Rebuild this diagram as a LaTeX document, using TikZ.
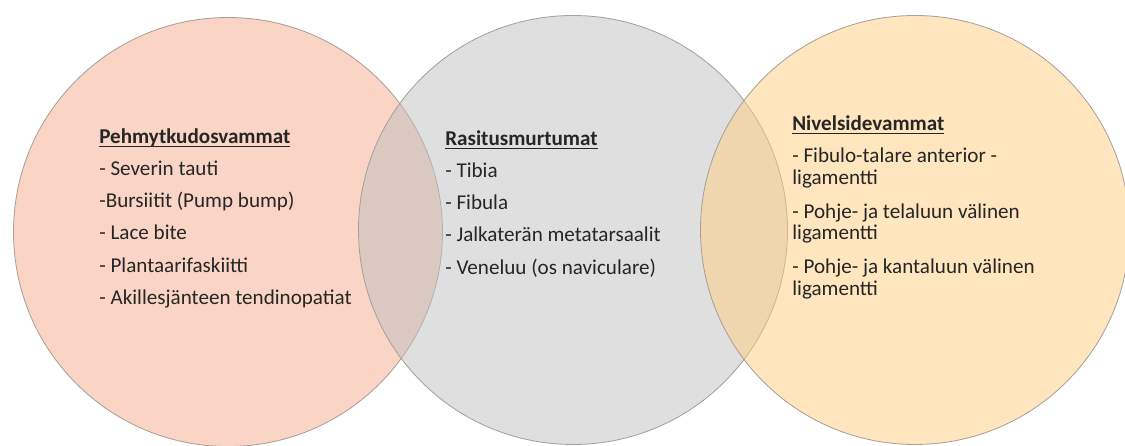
\documentclass[tikz,border=0pt]{standalone}
\usepackage{fontspec}
\setmainfont{Carlito}
\usetikzlibrary{positioning}
\definecolor{SalmonFill}{RGB}{245,172,140}
\definecolor{GreyFill}{RGB}{192,192,192}
\definecolor{GoldFill}{RGB}{255,205,125}
\definecolor{RimGrey}{RGB}{165,160,155}
\definecolor{Ink}{RGB}{38,38,38}
\newsavebox{\headbox}
\newcommand{\vennhead}[1]{\strut\sbox{\headbox}{\textbf{#1}}\usebox{\headbox}%
  \llap{\rule[-2.1pt]{\wd\headbox}{0.8pt}}}
\tikzset{
  venn/.style={circle, draw=RimGrey, line width=0.5pt, fill opacity=0.5,
    minimum size=257.4pt, inner sep=0pt},
  listtext/.style={align=left, anchor=north west, inner sep=0pt, text=Ink,
    font=\fontsize{12.66}{12.9}\selectfont},
}

\begin{document}
\begin{tikzpicture}[x=0.6pt, y=-0.6pt]
\useasboundingbox (0,0) rectangle (1125,446);

% ================= three overlapping circles =================
\node[venn, fill=SalmonFill] (soft) at (228,232) {};
\node[venn, fill=GreyFill] (stress) at (573,230) {};
\node[venn, fill=GoldFill] (lig) at (915,230) {};

% ================= texts =================
\node[listtext] (softlist) at (99,128) {\vennhead{Pehmytkudosvammat}\\[6.4pt]
   - Severin tauti\\[6.4pt]
   -Bursiitit (Pump bump)\\[6.4pt]
   - Lace bite\\[6.4pt]
   - Plantaarifaskiitti\\[6.4pt]
   - Akillesjänteen tendinopatiat};
\node[listtext] (stresslist) at (445,130) {\vennhead{Rasitusmurtumat}\\[6.4pt]
   - Tibia\\[6.4pt]
   - Fibula\\[6.4pt]
   - Jalkaterän metatarsaalit\\[6.4pt]
   - Veneluu (os naviculare)};
\node[listtext] (liglist) at (792,115) {\vennhead{Nivelsidevammat}\\[6.4pt]
   - Fibulo-talare anterior -\\
   ligamentti\\[7.5pt]
   - Pohje- ja telaluun välinen\\
   ligamentti\\[7.5pt]
   - Pohje- ja kantaluun välinen\\
   ligamentti};

\end{tikzpicture}
\end{document}
